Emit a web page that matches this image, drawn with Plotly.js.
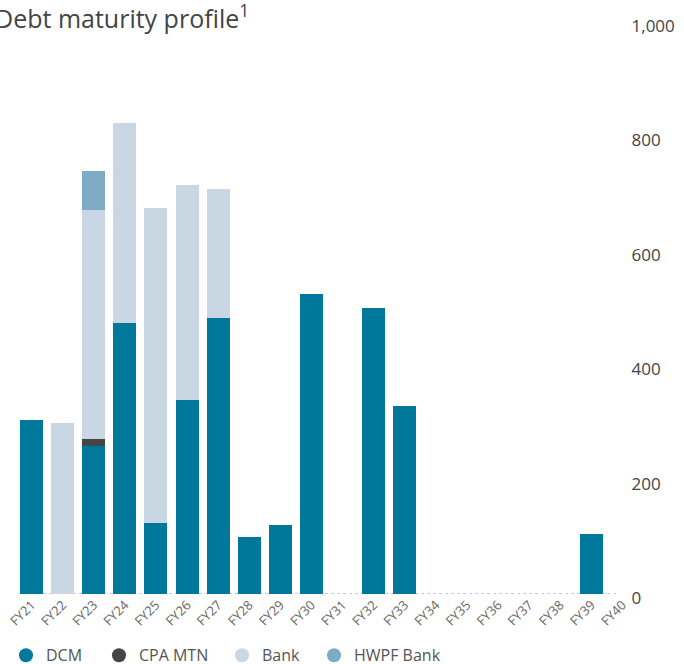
<!DOCTYPE html>
<html>
<head>
<meta charset="utf-8">
<script src="https://cdn.plot.ly/plotly-3.0.1.min.js"></script>
<style>html,body{margin:0;padding:0;background:#fff;}#chart{width:684px;height:664px;}</style>
</head>
<body>
<div id="chart"></div>
<script>
const categories = ['FY21','FY22','FY23','FY24','FY25','FY26','FY27','FY28','FY29','FY30','FY31','FY32','FY33','FY34','FY35','FY36','FY37','FY38','FY39','FY40'];
const dcm     = [304, 0, 259, 474, 124, 339, 483, 100, 121, 524, 0, 500, 329, 0, 0, 0, 0, 0, 105, 0];
const cpaMtn  = [0, 0, 12, 0, 0, 0, 0, 0, 0, 0, 0, 0, 0, 0, 0, 0, 0, 0, 0, 0];
const bank    = [0, 299, 400, 349, 551, 376, 225, 0, 0, 0, 0, 0, 0, 0, 0, 0, 0, 0, 0, 0];
const hwpf    = [0, 0, 69, 0, 0, 0, 0, 0, 0, 0, 0, 0, 0, 0, 0, 0, 0, 0, 0, 0];
const seriesNames = ['DCM', 'CPA MTN', 'Bank', 'HWPF Bank'];
const yTicks = [0, 200, 400, 600, 800, 1000];

const colors = ['#00789c', '#454548', '#c8d7e3', '#7eabc5'];
const values = [dcm, cpaMtn, bank, hwpf];
const FONT = '"Open Sans", Lato, sans-serif';
const legendIds = ['legend', 'legend2', 'legend3', 'legend4'];
const legendX = [-0.0161, 0.1334, 0.3312, 0.4791];

const traces = [];
values.forEach((v, i) => {
  traces.push({
    type: 'bar', x: categories, y: v, name: seriesNames[i],
    marker: {color: colors[i], line: {width: 0}},
    showlegend: false
  });
});
seriesNames.forEach((n, i) => {
  traces.push({
    type: 'scatter', mode: 'markers', x: [null], y: [null], name: n,
    marker: {color: colors[i], size: 14, symbol: 'circle'},
    showlegend: true, legend: legendIds[i]
  });
});

const layout = {
  width: 684, height: 664,
  margin: {l: 16, r: 46, t: 22, b: 70, autoexpand: false},
  paper_bgcolor: '#fff', plot_bgcolor: '#fff',
  barmode: 'stack', bargap: 0.26,
  font: {family: FONT, color: '#444'},
  xaxis: {
    type: 'category', range: [-0.5, 19.5], tickangle: -45,
    showgrid: false, zeroline: false, showline: false, ticks: '',
    tickfont: {size: 13, color: '#666', family: FONT},
    automargin: false
  },
  yaxis: {
    range: [0, 1000], tickvals: yTicks, tickformat: ',',
    side: 'right', anchor: 'free', position: 0.988,
    showgrid: false, zeroline: false, showline: false, ticks: '',
    tickfont: {size: 17, color: '#444', family: FONT},
    ticklabelshift: 4, automargin: false
  },
  shapes: [{
    type: 'line', xref: 'paper', yref: 'y', x0: 0.005, x1: 0.965, y0: 0, y1: 0,
    line: {color: '#c9c9d9', width: 2, dash: 'dot'}, layer: 'below'
  }],
  annotations: [{
    xref: 'paper', yref: 'paper', x: 0, y: 1, xanchor: 'left', yanchor: 'middle',
    xshift: -23, yshift: 6,
    text: 'Debt maturity profile<sup>1</sup>', showarrow: false,
    font: {size: 25, color: '#444', family: FONT}
  }],
  showlegend: true
};
legendIds.forEach((id, i) => {
  layout[id] = {
    orientation: 'h', x: legendX[i], xanchor: 'left', y: -0.0775, yanchor: 'top',
    font: {size: 16, color: '#555', family: FONT},
    bgcolor: 'rgba(0,0,0,0)'
  };
});

Plotly.newPlot('chart', traces, layout, {displayModeBar: false, staticPlot: true});
</script>
</body>
</html>
